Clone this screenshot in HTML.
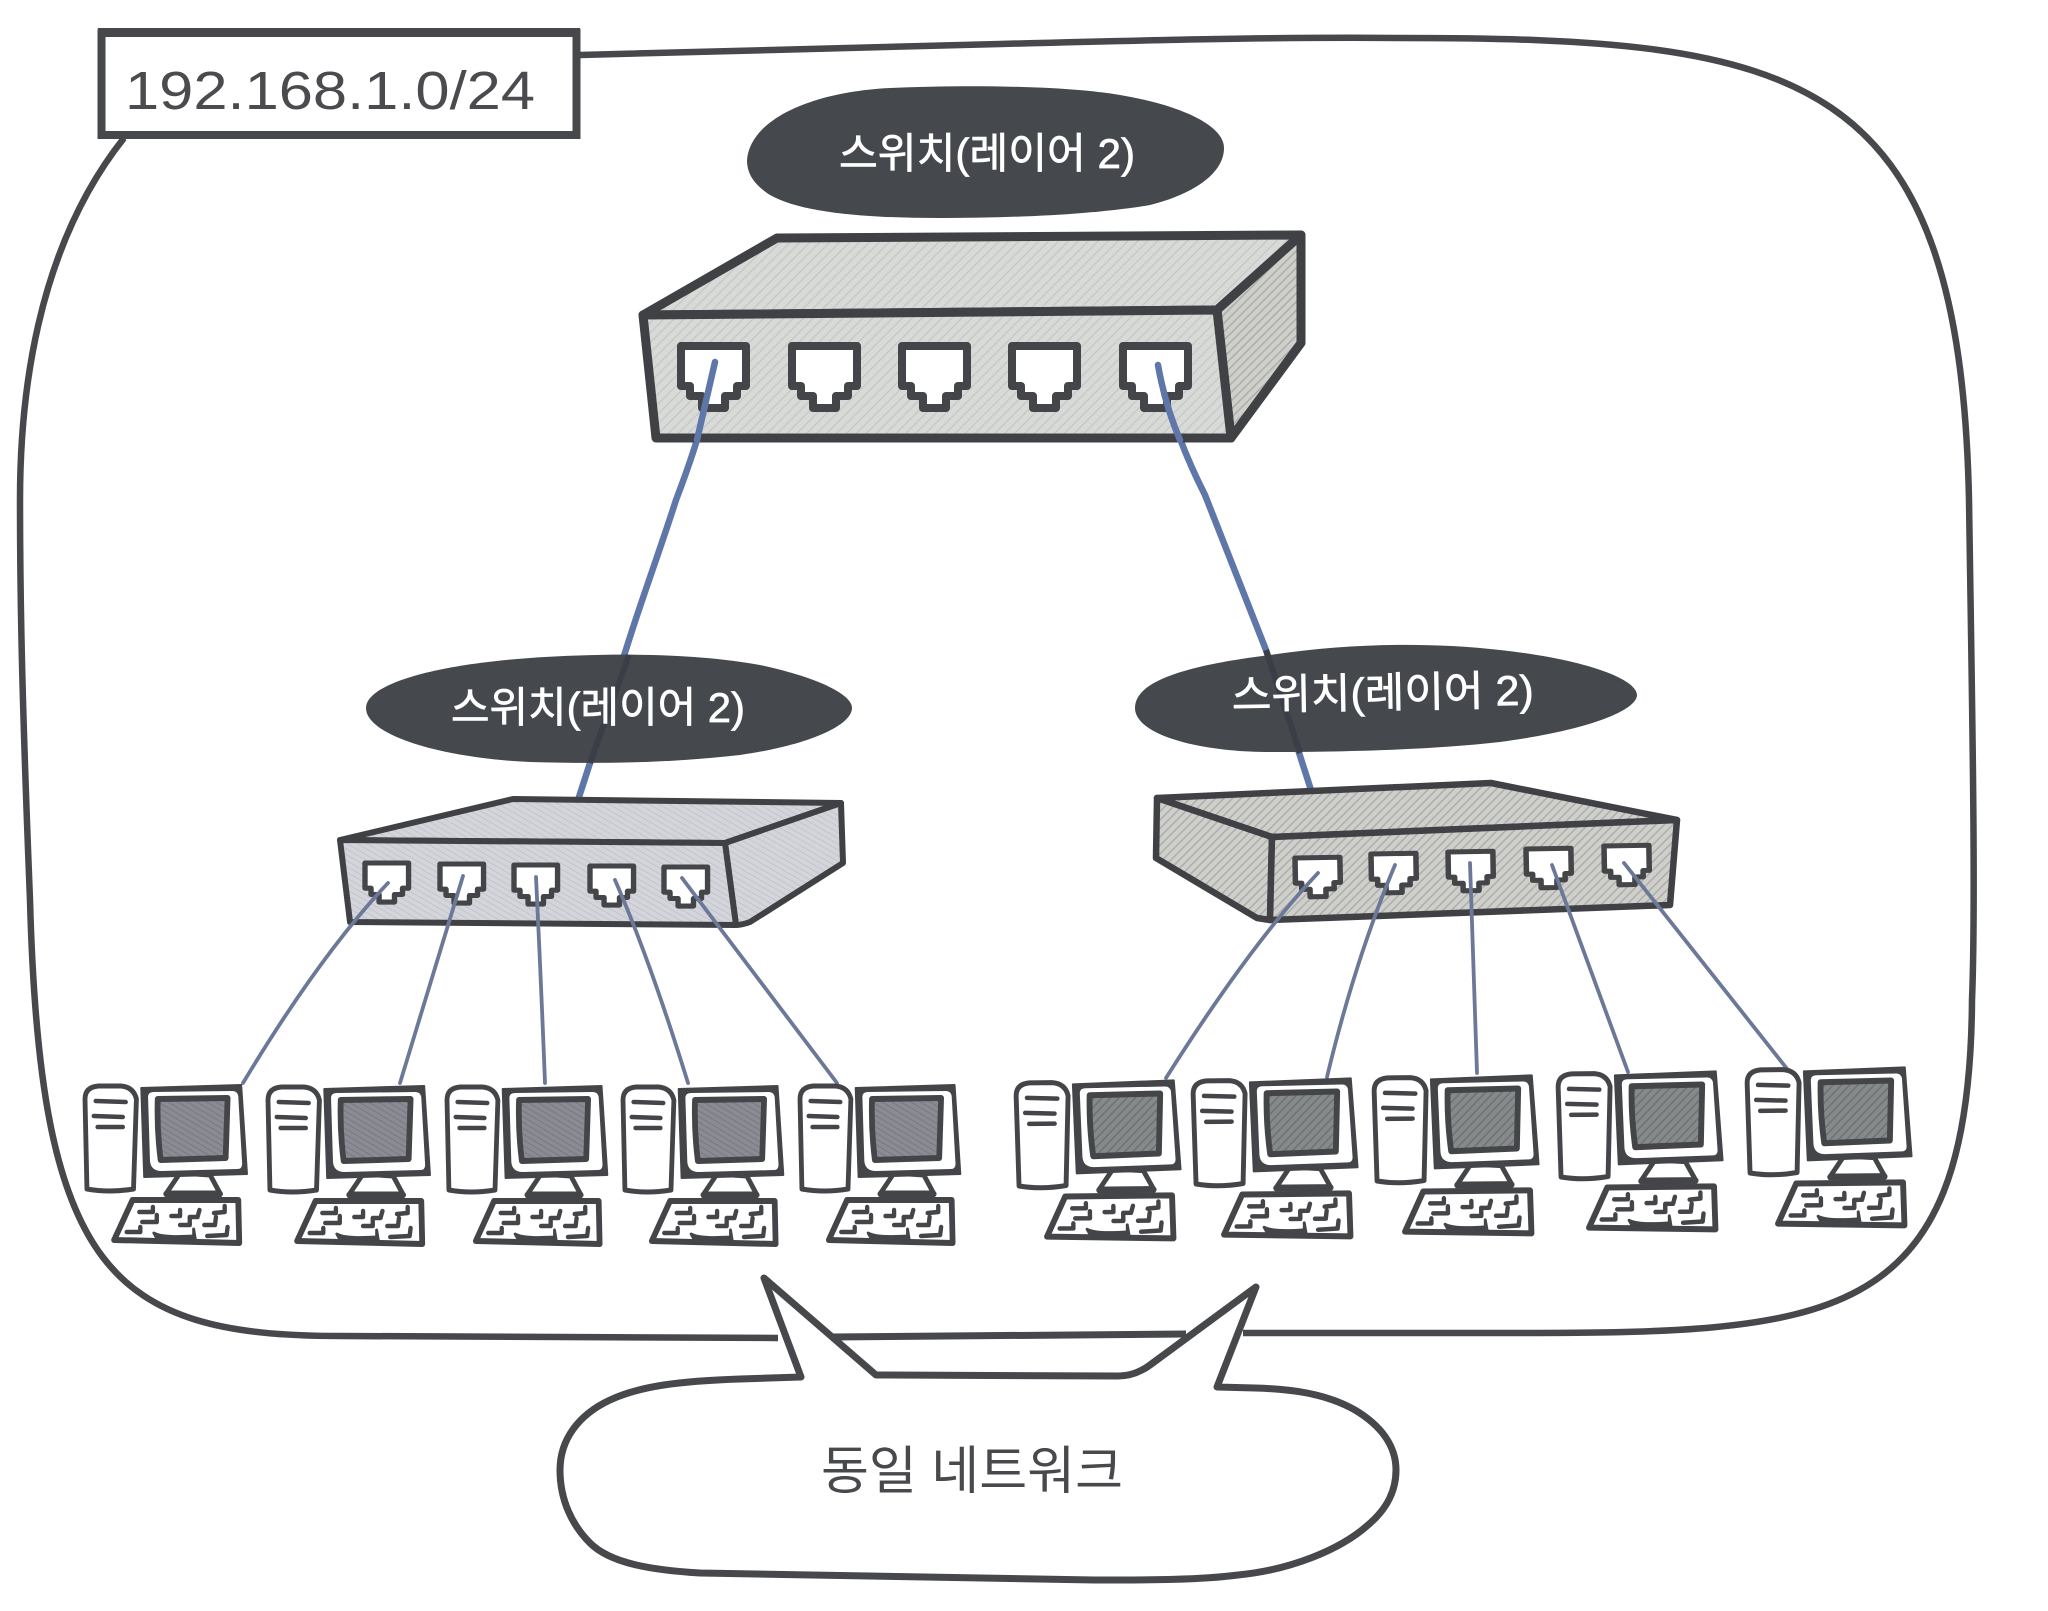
<!DOCTYPE html>
<html lang="ko"><head><meta charset="utf-8"><title>동일 네트워크</title>
<style>html,body{margin:0;padding:0;background:#fff}svg{display:block}
text{font-family:"Liberation Sans","Noto Sans CJK KR",sans-serif}</style></head>
<body>
<svg xmlns="http://www.w3.org/2000/svg" width="2048" height="1611" viewBox="0 0 2048 1611">
<defs>
<pattern id="hTop" width="7" height="7" patternUnits="userSpaceOnUse" patternTransform="rotate(-45)"><rect width="7" height="7" fill="#d8dad8"/><path d="M0 2H7" stroke="#c4c6c4" stroke-width="1.2"/></pattern>
<pattern id="hRight" width="6" height="6" patternUnits="userSpaceOnUse" patternTransform="rotate(-45)"><rect width="6" height="6" fill="#cfd0cb"/><path d="M0 2H6" stroke="#aaaba7" stroke-width="1.4"/></pattern>
<pattern id="hLeft" width="5" height="5" patternUnits="userSpaceOnUse" patternTransform="rotate(30)"><rect width="5" height="5" fill="#d4d4db"/><path d="M0 2H5" stroke="#c4c4ce" stroke-width="1"/></pattern>
<pattern id="scrL" width="5" height="5" patternUnits="userSpaceOnUse" patternTransform="rotate(30)"><rect width="5" height="5" fill="#8b8b94"/><path d="M0 2H5" stroke="#7a7a84" stroke-width="1.2"/></pattern>
<pattern id="scrR" width="6" height="6" patternUnits="userSpaceOnUse" patternTransform="rotate(-45)"><rect width="6" height="6" fill="#868a8a"/><path d="M0 2H6" stroke="#6d7172" stroke-width="1.5"/></pattern>

<g id="pcBase" stroke="#434548" stroke-linejoin="round" stroke-linecap="round">
 <path d="M2 104L0 14Q0 2 14 1H37Q50 2 53 14L50 104Q25 108 2 104Z" fill="#fff" stroke-width="5"/>
 <path d="M11 16L42 17M9 31L39 32M13 42L39 42" fill="none" stroke-width="4.500"/>
 <path d="M98 88L84 108H139L129 90Z" fill="#fff" stroke-width="5"/>
 <path d="M84 109H139" fill="none" stroke-width="6.500"/>
 <path d="M58 3L161 0L167 89L61 92Z" fill="#434548" stroke-width="2"/>
 <path d="M65 12Q65 7 71 7L152 6Q157 6 158 11L162 79Q162 84 157 84L79 86Q68 86 67 76Z" fill="#fff" stroke="none"/>
 <path d="M49 115H158L159 158L30 155Z" fill="#fff" stroke-width="6"/>
 <path d="M56 127H70V122M59 137H74V130M43 147H57V142M89 131H98V125M98 140H108V132H116L118 125M133 128L144 127V121M123 140H134L135 132M126 151L146 150L147 142" fill="none" stroke-width="4.500"/>
 <path d="M71 148Q80 153 112 151V144L114 156L75 155Z" fill="#434548" stroke-width="3"/>
</g>
<g id="pcL"><use href="#pcBase"/><path d="M75 14L147 13L145 73L78 75Q74 45 75 14Z" fill="url(#scrL)" stroke="#434548" stroke-width="6" stroke-linejoin="round"/></g>
<g id="pcR"><use href="#pcBase"/><path d="M75 14L147 13L145 73L78 75Q74 45 75 14Z" fill="url(#scrR)" stroke="#434548" stroke-width="6" stroke-linejoin="round"/></g>
<path id="port" d="M0 0H65V40H56V50H44V62H21V50H9V40H0Z" fill="#fff" stroke="#434548" stroke-linejoin="round"/>
</defs>

<rect width="2048" height="1611" fill="#fff"/>

<!-- boundary -->
<path d="M580 55L1000 44C1150 40 1280 37 1400 38C1800 38 1960 70 1969 500C1972 700 1976 900 1972 1000C1970 1330 1830 1333 1500 1333L1243 1333M778 1338L340 1336C110 1336 40 1270 30 900C22 700 20 600 20 500C20 400 35 250 124 138" fill="none" stroke="#46484b" stroke-width="6.500"/>

<!-- label box -->
<rect x="101.500" y="33" width="475" height="102" fill="#fff" stroke="#46484b" stroke-width="8"/>
<rect x="98" y="28" width="482" height="9" fill="#46484b"/>
<text x="125" y="109" font-size="54" fill="#4a4b4e" textLength="410" lengthAdjust="spacingAndGlyphs">192.168.1.0/24</text>

<!-- main cables -->
<g fill="none" stroke="#5f76a8" stroke-width="6.500" stroke-linecap="round">
 <path d="M715 362C707 410 697 445 676 500C660 550 645 590 629 640L590 763L579 797"/>
 <path d="M1158 365Q1172 430 1205 495L1266 650L1311 790"/>
</g>

<!-- top switch -->
<g stroke="#3f4144" stroke-width="9" stroke-linejoin="round">
 <path d="M777 238L1301 235L1217 310L643 315Z" fill="url(#hTop)"/>
 <path d="M1301 235V343L1231 438L1217 310Z" fill="url(#hRight)"/>
 <path d="M643 315L1217 310L1231 438L656 438Z" fill="url(#hTop)"/>
</g>
<g stroke-width="8">
 <use href="#port" x="681" y="346"/><use href="#port" x="792" y="346"/><use href="#port" x="902" y="346"/><use href="#port" x="1012" y="346"/><use href="#port" x="1123" y="346"/>
</g>
<g fill="none" stroke="#5f76a8" stroke-width="6.500" stroke-linecap="round">
 <path d="M715 362L697 440"/><path d="M1158 365Q1165 405 1180 440"/>
</g>

<!-- top label -->
<path d="M747 160C750 120 810 92 890 88C960 85 1060 85 1120 95C1180 105 1224 125 1224 148C1224 175 1190 195 1150 205C1090 215 1010 218 940 218C860 218 800 212 770 195C755 185 747 175 747 160Z" fill="#45484d"/>
<text x="839" y="168" font-size="42" fill="#fff" stroke="#fff" stroke-width=".7" textLength="296" lengthAdjust="spacingAndGlyphs">스위치(레이어 2)</text>

<!-- left switch -->
<g stroke="#3f4144" stroke-width="6" stroke-linejoin="round">
 <path d="M513 799L841 803L725 843L340 840Z" fill="url(#hLeft)"/>
 <path d="M841 803L843 863L750 922Q742 925 736 925L725 843Z" fill="url(#hLeft)"/>
 <path d="M340 840L725 843L736 925L350 922Z" fill="url(#hLeft)"/>
</g>
<g stroke-width="8">
 <use href="#port" transform="translate(365 863) scale(.67 .63)"/><use href="#port" transform="translate(440 864) scale(.67 .63)"/><use href="#port" transform="translate(514 865) scale(.67 .63)"/><use href="#port" transform="translate(590 866) scale(.67 .63)"/><use href="#port" transform="translate(664 867) scale(.67 .63)"/>
</g>

<!-- left label -->
<path d="M366 708C366 685 430 665 530 658C620 652 700 654 760 665C820 678 852 695 852 708C852 725 810 745 740 755C670 763 600 764 530 762C440 758 366 735 366 708Z" fill="#45484d"/>
<path d="M629 655L590 763" stroke="#3a3e46" stroke-width="6" fill="none"/>
<text x="451" y="722" font-size="42" fill="#fff" stroke="#fff" stroke-width=".7" textLength="294" lengthAdjust="spacingAndGlyphs">스위치(레이어 2)</text>

<!-- right switch -->
<g stroke="#3f4144" stroke-width="6.500" stroke-linejoin="round">
 <path d="M1157 798L1491 783L1677 820L1272 837Z" fill="url(#hRight)"/>
 <path d="M1157 798L1156 858L1257 918L1270 920L1272 837Z" fill="url(#hRight)"/>
 <path d="M1272 837L1677 820L1670 905L1270 920Z" fill="url(#hRight)"/>
</g>
<g stroke-width="8">
 <use href="#port" transform="translate(1295 858) rotate(-1) scale(.69 .63)"/><use href="#port" transform="translate(1371 854) rotate(-1) scale(.69 .63)"/><use href="#port" transform="translate(1448 852) rotate(-1) scale(.69 .63)"/><use href="#port" transform="translate(1526 849) rotate(-1) scale(.69 .63)"/><use href="#port" transform="translate(1604 846) rotate(-1) scale(.69 .63)"/>
</g>

<!-- right label -->
<path d="M1135 708C1135 680 1190 665 1270 655C1350 643 1430 642 1500 650C1590 660 1637 680 1637 695C1637 710 1590 730 1500 742C1430 750 1340 752 1270 752C1200 752 1135 735 1135 708Z" fill="#45484d"/>
<path d="M1266 650L1300 753" stroke="#3a3e46" stroke-width="6" fill="none"/>
<text x="1232" y="710" font-size="42" fill="#fff" stroke="#fff" stroke-width=".7" textLength="302" lengthAdjust="spacingAndGlyphs" transform="rotate(-1 1232 710)">스위치(레이어 2)</text>

<!-- PC cables -->
<g fill="none" stroke="#6c7897" stroke-width="3.800" stroke-linecap="round">
 <path d="M388 883Q320 955 243 1083"/>
 <path d="M463 876L400 1083"/>
 <path d="M536 877Q541 980 545 1083"/>
 <path d="M615 880Q650 960 688 1083"/>
 <path d="M682 878L837 1083"/>
 <path d="M1318 873Q1250 945 1166 1078"/>
 <path d="M1395 865Q1355 960 1327 1077"/>
 <path d="M1470 863L1477 1073"/>
 <path d="M1552 865L1628 1072"/>
 <path d="M1624 863L1788 1070"/>
</g>

<!-- PCs -->
<use href="#pcL" transform="translate(85 1085) scale(.97 1)"/>
<use href="#pcL" transform="translate(268 1086) scale(.97 1)"/>
<use href="#pcL" transform="translate(447 1086) scale(.96 1)"/>
<use href="#pcL" transform="translate(623 1086) scale(.96 1)"/>
<use href="#pcL" transform="translate(800 1085) scale(.96 1)"/>
<use href="#pcR" transform="translate(1016 1082) rotate(-.6) scale(.98 1)"/>
<use href="#pcR" transform="translate(1193 1080) rotate(-.6) scale(.98 1)"/>
<use href="#pcR" transform="translate(1374 1077) rotate(-.6) scale(.98 1)"/>
<use href="#pcR" transform="translate(1558 1073) rotate(-.6) scale(.98 1)"/>
<use href="#pcR" transform="translate(1747 1069) rotate(-.6) scale(.98 1)"/>

<!-- speech bubble -->
<path d="M764 1278L801 1377L740 1379C680 1381 640 1386 610 1400C578 1415 560 1440 560 1470C560 1500 572 1525 590 1543C610 1563 650 1570 700 1573L1094 1580C1150 1580 1200 1580 1238 1575C1290 1570 1340 1550 1368 1525C1388 1508 1396 1490 1396 1470C1396 1445 1380 1425 1355 1410C1325 1393 1290 1389 1255 1388L1217 1387L1256 1287L1150 1365Q1135 1376 1118 1376L876 1375Z" fill="#fff"/>
<path d="M833 1337L1186 1334" stroke="#46484b" stroke-width="7" fill="none"/>
<path d="M764 1278L801 1377L740 1379C680 1381 640 1386 610 1400C578 1415 560 1440 560 1470C560 1500 572 1525 590 1543C610 1563 650 1570 700 1573L1094 1580C1150 1580 1200 1580 1238 1575C1290 1570 1340 1550 1368 1525C1388 1508 1396 1490 1396 1470C1396 1445 1380 1425 1355 1410C1325 1393 1290 1389 1255 1388L1217 1387L1256 1287L1150 1365Q1135 1376 1118 1376L876 1375Z" fill="none" stroke="#46484b" stroke-width="7" stroke-linejoin="round"/>
<text x="821" y="1489" font-size="52" fill="#48494d" textLength="302" lengthAdjust="spacingAndGlyphs">동일 네트워크</text>
</svg>
</body></html>
